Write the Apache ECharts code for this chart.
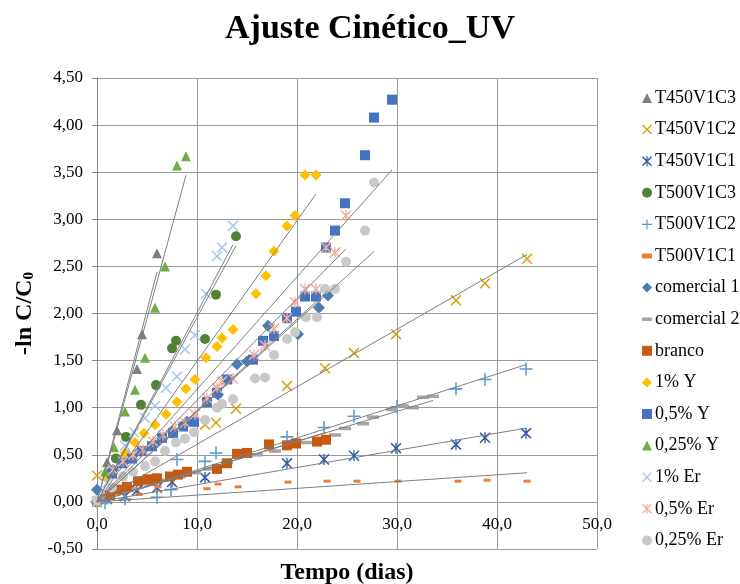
<!DOCTYPE html>
<html><head><meta charset="utf-8">
<script src="https://cdn.jsdelivr.net/npm/echarts@6/dist/echarts.min.js"></script>
<style>html,body{margin:0;padding:0;background:#fff}#c{width:740px;height:584px}</style>
</head><body><div id="c"></div>
<script>
// ---- data (x = Tempo (dias), y = -ln C/C0) ----
const T450V1C3 = [[0,0],[1,0.42],[2,0.76],[4,1.41],[4.5,1.78],[6,2.64]];
const T450V1C2 = [[0,0.28],[10.8,0.82],[11.9,0.84],[13.9,0.99],[19,1.23],[22.8,1.42],[25.7,1.58],[29.9,1.78],[35.9,2.14],[38.8,2.32],[43,2.58]];
const T450V1C1 = [[0,0],[1,0.03],[2.8,0.06],[4,0.12],[6,0.15],[7.5,0.21],[10.8,0.26],[19,0.41],[22.7,0.45],[25.7,0.49],[29.9,0.57],[35.9,0.61],[38.8,0.68],[42.9,0.73]];
const T500V1C3 = [[0,0],[1.9,0.46],[2.9,0.69],[4.4,1.03],[5.9,1.24],[7.5,1.63],[7.9,1.71],[10.8,1.73],[11.9,2.20],[13.9,2.82]];
const T500V1C2 = [[0,0],[0.8,-0.01],[2.8,0.03],[6,0.05],[7.4,0.13],[8,0.45],[10.8,0.43],[11.9,0.52],[19,0.69],[22.7,0.79],[25.7,0.91],[30,1.01],[35.9,1.20],[38.8,1.30],[42.9,1.41]];
const T500V1C1 = [[0,0],[1,0.03],[4.2,0.08],[6.1,0.16],[11,0.14],[12.1,0.19],[14.1,0.16],[19.1,0.21],[23,0.22],[26,0.22],[30.1,0.22],[36.1,0.22],[39,0.23],[43,0.22]];
const comercial1 = [[0,0.13],[1.6,0.34],[2.8,0.43],[4.3,0.54],[5.8,0.61],[7.5,0.75],[9,0.85],[12.1,1.14],[14,1.46],[15,1.49],[17.1,1.87],[20.1,1.78],[22.2,2.06],[23.1,2.19]];
const comercial2 = [[0,0],[1.2,0.06],[2.3,0.1],[3.4,0.14],[5,0.19],[6.5,0.23],[8.3,0.27],[9.8,0.31],[11.2,0.35],[13,0.42],[15,0.49],[16,0.5],[17.8,0.54],[19.8,0.59],[20.8,0.63],[22,0.63],[23.8,0.71],[24.8,0.78],[26.6,0.83],[27.6,0.90],[29.5,0.98],[30.6,1.02],[31.6,1.0],[32.6,1.11],[33.6,1.12]];
const branco = [[0,0],[1.3,0.07],[2.1,0.13],[3,0.16],[4.1,0.22],[5.1,0.24],[6,0.25],[7.3,0.27],[8.1,0.29],[9,0.32],[12,0.35],[13,0.41],[14,0.51],[15,0.52],[17.2,0.61],[19,0.6],[19.9,0.62],[22,0.64],[22.9,0.66]];
const Y1 = [[0,0],[1,0.25],[2.8,0.52],[3.8,0.63],[4.7,0.73],[5.8,0.82],[6.9,0.93],[8,1.06],[8.9,1.20],[9.8,1.30],[10.9,1.53],[12,1.65],[12.5,1.74],[13.6,1.83],[15.9,2.21],[16.9,2.40],[17.7,2.66],[19,2.93],[19.8,3.04],[20.8,3.47],[21.9,3.47]];
const Y05 = [[0,0],[1.5,0.3],[2.5,0.41],[3.5,0.46],[4.5,0.54],[5.5,0.59],[6.5,0.68],[7.6,0.73],[8.6,0.8],[9.7,0.85],[11,1.06],[12,1.16],[13,1.30],[15.6,1.51],[16.6,1.71],[17.7,1.76],[19,1.95],[19.9,2.02],[20.8,2.18],[21.9,2.18],[22.9,2.70],[23.8,2.88],[24.8,3.17],[26.8,3.68],[27.7,4.08],[29.5,4.27]];
const Y025 = [[0,0],[0.8,0.32],[1.7,0.58],[2.8,0.96],[3.8,1.19],[4.8,1.53],[5.8,2.06],[6.8,2.50],[8,3.57],[8.9,3.67]];
const Er1 = [[0,0],[1,0.2],[2.8,0.6],[3.7,0.74],[4.8,0.89],[5.8,1.02],[6.9,1.21],[8,1.33],[8.8,1.62],[9.8,1.77],[10.9,2.21],[12,2.61],[12.5,2.70],[13.6,2.93]];
const Er05 = [[0,0],[1.6,0.34],[2.6,0.43],[3.6,0.5],[4.6,0.55],[5.6,0.64],[6.6,0.71],[7.8,0.8],[8.8,0.84],[9.8,0.93],[11,1.1],[12,1.21],[12.5,1.28],[13.6,1.31],[15.7,1.56],[16.8,1.66],[17.7,1.84],[19,1.95],[19.8,2.12],[20.8,2.26],[21.9,2.26],[22.9,2.70],[23.8,2.65],[24.9,3.04]];
const Er025 = [[0,0.02],[1.5,0.15],[2.6,0.27],[3.6,0.32],[4.8,0.38],[5.8,0.43],[6.8,0.54],[7.9,0.63],[8.8,0.67],[9.7,0.74],[10.8,0.87],[12,1.0],[12.5,1.04],[13.6,1.09],[15.8,1.31],[16.8,1.32],[17.7,1.56],[19,1.73],[19.8,1.8],[20.9,1.96],[22,1.96],[22.8,2.26],[23.8,2.26],[24.9,2.55],[26.8,2.88],[27.7,3.39]];

const xTicks = {min:0, max:50, interval:10};
const yTicks = {min:-0.5, max:4.5, interval:0.5};

// ---- styling ----
const XSHAPE = 'path://M0,1 L1,0 L5,4 L9,0 L10,1 L6,5 L10,9 L9,10 L5,6 L1,10 L0,9 L4,5 Z';
const PLUS = 'path://M4.4,0 H5.6 V4.4 H10 V5.6 H5.6 V10 H4.4 V5.6 H0 V4.4 H4.4 Z';
const STAR = 'path://M0,1 L1,0 L4.4,3.4 V0 H5.6 V3.4 L9,0 L10,1 L6,5 L10,9 L9,10 L5.6,6.6 V10 H4.4 V6.6 L1,10 L0,9 L4,5 Z';
const DASH = 'path://M0,0 H10 V3.5 H0 Z';

const defs = [
  {name:'T450V1C3', data:T450V1C3, color:'#7f7f7f', symbol:'triangle', size:10},
  {name:'T450V1C2', data:T450V1C2, color:'#D6A311', symbol:XSHAPE, size:11},
  {name:'T450V1C1', data:T450V1C1, color:'#2F5BA8', symbol:STAR, size:11},
  {name:'T500V1C3', data:T500V1C3, color:'#548235', symbol:'circle', size:10},
  {name:'T500V1C2', data:T500V1C2, color:'#5B9BD5', symbol:PLUS, size:13},
  {name:'T500V1C1', data:T500V1C1, color:'#ED7D31', symbol:'rect', size:[7,3], icon:'path://M0,0 H6 V3 H0 Z'},
  {name:'comercial 1', data:comercial1, color:'#4A7DB4', symbol:'diamond', size:12},
  {name:'comercial 2', data:comercial2, color:'#A5A5A5', symbol:'rect', size:[12,3.5], icon:DASH},
  {name:'branco', data:branco, color:'#C55A11', symbol:'rect', size:10},
  {name:'1% Y', data:Y1, color:'#FFC000', symbol:'diamond', size:11},
  {name:'0,5% Y', data:Y05, color:'#4472C4', symbol:'rect', size:10},
  {name:'0,25% Y', data:Y025, color:'#70AD47', symbol:'triangle', size:10},
  {name:'1% Er', data:Er1, color:'#A9C8EC', symbol:XSHAPE, size:11},
  {name:'0,5% Er', data:Er05, color:'#F4B09A', symbol:STAR, size:11},
  {name:'0,25% Er', data:Er025, color:'#C9C9C9', symbol:'circle', size:10}
];

// linear trend lines through the origin (fitted from the data)
function trend(d){
  let sxy=0, sxx=0, xmin=Infinity, xmax=-Infinity;
  d.forEach(p=>{sxy+=p[0]*p[1]; sxx+=p[0]*p[0]; xmin=Math.min(xmin,p[0]); xmax=Math.max(xmax,p[0]);});
  const k = sxy/sxx;
  return [[xmin,k*xmin],[xmax,k*xmax]];
}

const FONT = '"Liberation Serif","Times New Roman",serif';
const series = [];
defs.forEach(d=>{
  series.push({
    name:d.name, type:'scatter', data:d.data, symbol:d.symbol, symbolSize:d.size,
    itemStyle:{color:d.color, opacity:1}, z:2, animation:false
  });
});
defs.forEach(d=>{
  series.push({
    name:d.name+' trend', type:'line', data:trend(d.data), symbol:'none', silent:true,
    lineStyle:{color:'#7f7f7f', width:1}, z:3, animation:false
  });
});

const fmtY = v => v.toFixed(2).replace('.', ',');
const fmtX = v => v.toFixed(1).replace('.', ',');

const chart = echarts.init(document.getElementById('c'), null, {renderer:'canvas'});
chart.setOption({
  backgroundColor:'#fff',
  animation:false,
  title:{text:'Ajuste Cinético_UV', left:'center', top:7,
    textStyle:{fontFamily:FONT, fontSize:34, fontWeight:'bold', color:'#000'}},
  grid:{left:97, right:143, top:78, bottom:35, containLabel:false, outerBoundsMode:'none'},
  legend:{
    orient:'vertical', left:637, top:84, itemGap:13.6, itemWidth:10, itemHeight:10,
    data: defs.map(d=> d.icon ? {name:d.name, icon:d.icon} : {name:d.name}),
    textStyle:{fontFamily:FONT, fontSize:18, color:'#000', lineHeight:18, padding:[0,0,0,-2]}
  },
  xAxis:{
    type:'value', min:xTicks.min, max:xTicks.max, interval:xTicks.interval,
    name:'Tempo (dias)', nameLocation:'middle', nameGap:12,
    nameTextStyle:{fontFamily:FONT, fontSize:24, fontWeight:'bold', color:'#000'},
    axisLine:{show:false, onZero:false},
    axisTick:{show:false},
    // labels sit just below the y = 0 line (between 0 and -0,50)
    axisLabel:{formatter:fmtX, fontFamily:FONT, fontSize:17, color:'#000', margin:-33},
    splitLine:{show:true, lineStyle:{color:'#9a9a9a', width:1}}
  },
  yAxis:{
    type:'value', min:yTicks.min, max:yTicks.max, interval:yTicks.interval,
    name:'-ln C/C{s|0}', nameLocation:'middle', nameGap:54, nameRotate:90,
    nameTextStyle:{fontFamily:FONT, fontSize:24, fontWeight:'bold', color:'#000',
      rich:{s:{fontFamily:FONT, fontSize:15, fontWeight:'bold', color:'#000', verticalAlign:'bottom', padding:[9,0,0,0]}}},
    axisLine:{show:true, onZero:false, lineStyle:{color:'#868686', width:1}},
    axisTick:{show:true, length:5, lineStyle:{color:'#868686'}},
    axisLabel:{formatter:fmtY, fontFamily:FONT, fontSize:17, color:'#000', margin:14},
    splitLine:{show:true, lineStyle:{color:'#9a9a9a', width:1}}
  },
  series:series
});
</script>
</body></html>
